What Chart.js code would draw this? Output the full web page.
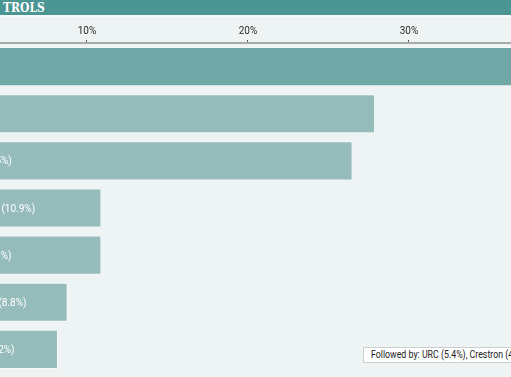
<!DOCTYPE html>
<html>
<head>
<meta charset="utf-8">
<script src="https://cdn.jsdelivr.net/npm/chart.js@4/dist/chart.umd.min.js"></script>
<style>
  html, body { margin: 0; padding: 0; }
  body { width: 511px; height: 377px; overflow: hidden; background: #eef3f3; position: relative; font-family: Roboto, "Liberation Sans", sans-serif; }
  #head { position: absolute; left: 0; top: 0; width: 511px; height: 15px; background: #4b9693; border-bottom: 2px solid #f6fafa; }
  #head span { position: absolute; left: 3px; top: 1px; color: #fff; font: bold 12px "DejaVu Serif Condensed", "DejaVu Serif", serif; }
  #wrap { position: absolute; left: 0; top: 0; width: 511px; height: 377px; }
  #note { position: absolute; left: 363px; top: 347px; width: 200px; height: 14px; background: #fff; border: 1px solid #c9cece; white-space: nowrap; overflow: hidden; }
  #note span { position: absolute; left: 7px; top: 1px; font: 10px Roboto, "Liberation Sans", sans-serif; color: #222; transform: scaleX(0.88); transform-origin: 0 0; }
</style>
</head>
<body>
<div id="wrap"><canvas id="c" width="511" height="377"></canvas></div>
<div id="head"><span>TROLS</span></div>
<div id="note"><span>Followed by: URC (5.4%), Crestron (4.9%)</span></div>
<script>
const categories = ["RTI", "AMX", "Harmony", "Amazon Alexa", "Apple TV", "Google Home", "Nice/ELAN"];
const shares = [37.5, 27.9, 26.5, 10.9, 10.9, 8.8, 8.2];
const tickValues = [10, 20, 30];

const barLabels = {
  id: 'barLabels',
  afterDatasetsDraw(chart) {
    const ctx = chart.ctx;
    const xs = chart.scales.x;
    const meta = chart.getDatasetMeta(0);
    ctx.save();
    ctx.font = '10px Roboto, "Liberation Sans", sans-serif';
    ctx.fillStyle = '#ffffff';
    ctx.textBaseline = 'middle';
    ctx.textAlign = 'left';
    meta.data.forEach((bar, i) => {
      const x0 = xs.getPixelForValue(0) + 9;
      ctx.fillText(categories[i] + ' (' + shares[i] + '%)', x0, bar.y + 1);
    });
    ctx.restore();
  }
};

new Chart(document.getElementById('c'), {
  type: 'bar',
  data: {
    labels: categories,
    datasets: [{
      data: shares,
      backgroundColor: shares.map((v, i) => i === 0 ? '#6fa8a7' : '#95bcbb'),
      borderColor: 'rgba(255,255,255,0.6)',
      borderWidth: 1,
      barPercentage: 0.83,
      categoryPercentage: 1
    }]
  },
  options: {
    indexAxis: 'y',
    responsive: false,
    animation: false,
    layout: { padding: { top: 0, bottom: 4, left: 0, right: 0 } },
    plugins: { legend: { display: false }, tooltip: { enabled: false } },
    scales: {
      x: {
        type: 'linear',
        position: 'top',
        min: 4.6,
        max: 36.34,
        afterBuildTicks(s) { s.ticks = tickValues.map(v => ({ value: v })); },
        afterFit(s) { s.height = 43; },
        ticks: {
          callback: v => v + '%',
          color: '#2b2b2b',
          font: { family: 'Roboto', size: 10 },
          padding: 3,
          maxRotation: 0
        },
        grid: { drawOnChartArea: false, drawTicks: true, tickLength: 3, color: '#555', lineWidth: 1 },
        border: { display: true, color: '#a3abab', width: 2 }
      },
      y: { display: false }
    }
  },
  plugins: [barLabels]
});
</script>
</body>
</html>
